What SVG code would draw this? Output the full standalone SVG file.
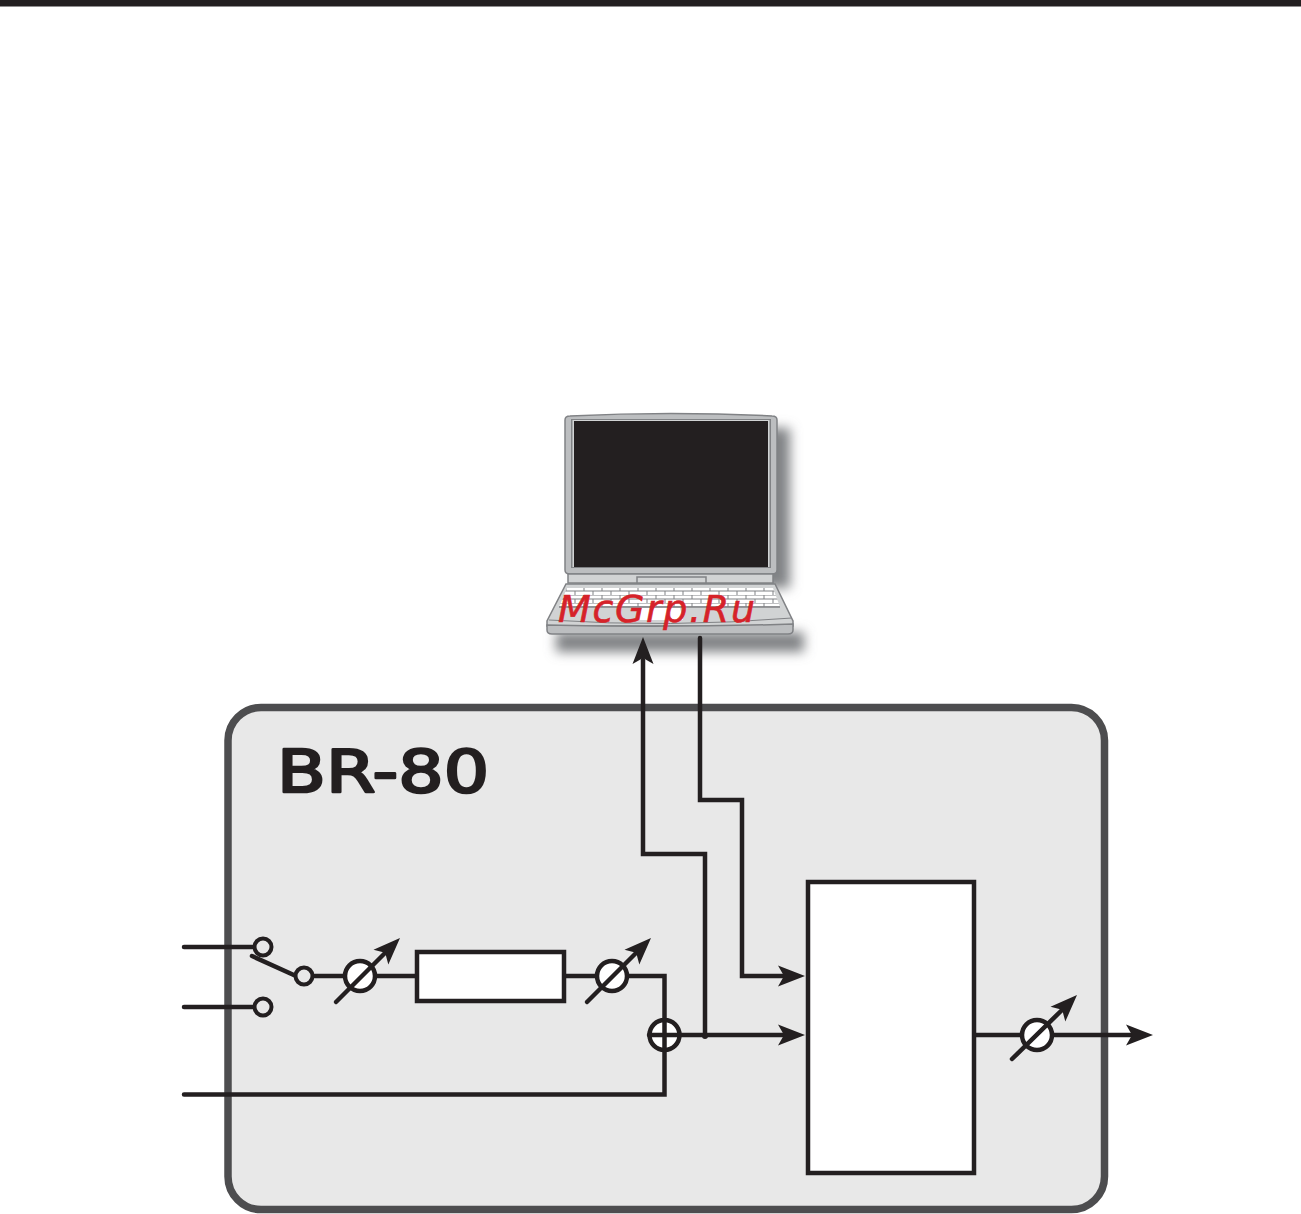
<svg xmlns="http://www.w3.org/2000/svg" width="1301" height="1214" viewBox="0 0 1301 1214">
<style>
.w{fill:none;stroke:#231f20;stroke-width:4.500;stroke-linecap:round;stroke-linejoin:miter}
.t{stroke:#231f20;stroke-width:4}
.k{fill:#fff;stroke:#231f20;stroke-width:4.500}
.h{fill:#231f20;stroke:none}
.lap{fill:#bcbec0;stroke:#808285;stroke-width:1.500}
.lite{fill:#d1d3d4;stroke:#808285;stroke-width:1.500}
</style>
<defs>
<filter id="blur" x="-20%" y="-30%" width="140%" height="160%"><feGaussianBlur stdDeviation="6"/></filter>
<pattern id="keys" width="18" height="8" patternUnits="userSpaceOnUse" x="560" y="587">
<rect width="18" height="8" fill="#fff"/>
<path d="M0 0H18M0 4H18M6 0V4M15 4V8" stroke="#808285" stroke-width="1" fill="none"/>
</pattern>
<path id="ah" d="M0 0L-27 -10.500L-21 0L-27 10.500Z"/>
</defs>
<rect id="top-bar" x="0" y="0" width="1301" height="6.500" fill="#231f20"/>
<g id="laptop">
<g fill="#808285" filter="url(#blur)">
<rect x="578" y="428" width="212" height="160"/>
<path d="M556 632H804V652H556Z"/>
</g>
<path class="lap" d="M565 420Q565 416 570 416Q671 411 772 416Q777 416 777 420V570Q777 574 772 574H570Q565 574 565 570Z"/>
<rect x="571" y="419" width="200" height="149" fill="#808285"/>
<rect x="572.500" y="420" width="197" height="147" fill="#d1d3d4"/>
<rect x="574" y="421" width="194" height="146" fill="#231f20"/>
<rect class="lite" x="568" y="574" width="205" height="9"/>
<rect class="lite" x="637" y="577" width="69" height="6"/>
<path class="lite" d="M566 584H775L793 621V626H547V621Z"/>
<path d="M567 588H773L780 607H559Z" fill="url(#keys)"/>
<path d="M559 607H780" stroke="#808285" stroke-width="1.500"/>
<path d="M642 608H680L683 620H636Z" fill="#fff"/>
<path d="M549 620Q670 628 792 618" fill="none" stroke="#808285"/>
<path class="lap" d="M547 625Q670 628 793 624V630Q793 634 788 634H552Q547 634 547 630Z"/>
</g>
<g id="br-80">
<rect x="228" y="707.500" width="876.500" height="502" rx="33" fill="#e8e8e8" stroke="#4d4d4f" stroke-width="7.500"/>
<text x="277" y="792" font-family="'DejaVu Sans',sans-serif" font-size="58" fill="#231f20" stroke="#231f20" stroke-width="2.500" stroke-linejoin="round" textLength="212" lengthAdjust="spacingAndGlyphs">BR-80</text>
</g>
<g id="connectors">
<path class="w" d="M184 947H254M184 1007H254M184 1094.500H664.500V1035M252 956L296 976M314 976H344M376 976H417M565 976H628M628 976H664.500V1035"/>
<path class="w" d="M680 1035H785M705 1035V854H643V660"/>
<path class="w" d="M700 638V800H742V976H785"/>
<path class="w" d="M974 1035H1135"/>
<use href="#ah" class="h" x="805" y="976"/>
<use href="#ah" class="h" x="805" y="1035"/>
<use href="#ah" class="h" x="1153" y="1035"/>
<use href="#ah" class="h" transform="translate(643 637) rotate(-90)"/>
<circle class="h" cx="705" cy="1036" r="3"/>
</g>
<g id="input-a"><circle cx="263" cy="947" r="8.500" fill="#e8e8e8" class="t"/></g>
<g id="input-b"><circle cx="263" cy="1007" r="8.500" fill="#e8e8e8" class="t"/></g>
<g id="switch"><circle cx="304" cy="976" r="8.500" fill="#e8e8e8" class="t"/></g>
<g id="knob-1">
<circle class="k" cx="360" cy="976" r="15"/>
<path class="w" d="M336 1002L385 953"/>
<use href="#ah" class="h" transform="translate(400 938) rotate(-45)"/>
</g>
<g id="fx-box"><rect class="k" x="417" y="952" width="147" height="49"/></g>
<g id="knob-2">
<circle class="k" cx="612" cy="976" r="15"/>
<path class="w" d="M587 1002L636 953"/>
<use href="#ah" class="h" transform="translate(651 938) rotate(-45)"/>
</g>
<g id="sum">
<circle class="k" cx="664.500" cy="1035" r="15"/>
<path class="w" d="M649 1035H680M664.500 1020V1050"/>
</g>
<g id="mixer-box"><rect class="k" x="808" y="882" width="166" height="291"/></g>
<g id="knob-3">
<circle class="k" cx="1037" cy="1035" r="15"/>
<path class="w" d="M1012 1059L1062 1010"/>
<use href="#ah" class="h" transform="translate(1077 995) rotate(-45)"/>
</g>
<text id="watermark" x="558" y="622" font-family="'DejaVu Sans',sans-serif" font-style="italic" font-size="38" fill="#d62229" stroke="#d62229" stroke-width="0.600" textLength="197">McGrp.Ru</text>
</svg>
